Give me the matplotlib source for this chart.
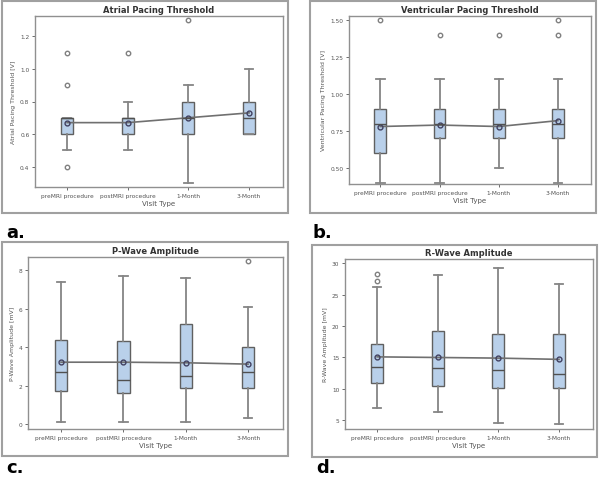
import matplotlib.pyplot as plt
from matplotlib.patches import Rectangle

visits = ["preMRI procedure", "postMRI procedure", "1-Month", "3-Month"]

# atrial pacing threshold [V]
atr_whislo = [0.5, 0.5, 0.3, 0.6]
atr_q1 = [0.6, 0.6, 0.6, 0.6]
atr_med = [0.7, 0.7, 0.7, 0.7]
atr_q3 = [0.7, 0.7, 0.8, 0.8]
atr_whishi = [0.7, 0.8, 0.9, 1.0]
atr_mean = [0.67, 0.67, 0.70, 0.73]
atr_fliers = [[0.4, 0.9, 1.1], [1.1], [1.3], []]

# ventricular pacing threshold [V]
ven_whislo = [0.4, 0.4, 0.5, 0.4]
ven_q1 = [0.6, 0.7, 0.7, 0.7]
ven_med = [0.8, 0.8, 0.8, 0.8]
ven_q3 = [0.9, 0.9, 0.9, 0.9]
ven_whishi = [1.1, 1.1, 1.1, 1.1]
ven_mean = [0.78, 0.79, 0.78, 0.82]
ven_fliers = [[1.5], [1.4], [1.4], [1.4, 1.5]]

# P-wave amplitude [mV]
pw_whislo = [0.1, 0.1, 0.1, 0.3]
pw_q1 = [1.7, 1.6, 1.9, 1.9]
pw_med = [2.7, 2.3, 2.5, 2.7]
pw_q3 = [4.4, 4.3, 5.2, 4.0]
pw_whishi = [7.4, 7.7, 7.6, 6.1]
pw_mean = [3.22, 3.22, 3.19, 3.12]
pw_fliers = [[], [], [], [8.5]]

# R-wave amplitude [mV]
rw_whislo = [7.0, 6.3, 4.6, 4.4]
rw_q1 = [10.9, 10.4, 10.1, 10.1]
rw_med = [13.5, 13.4, 13.0, 12.4]
rw_q3 = [17.1, 19.2, 18.7, 18.8]
rw_whishi = [26.3, 28.1, 29.2, 26.7]
rw_mean = [15.1, 15.0, 14.9, 14.7]
rw_fliers = [[27.2, 28.3], [], [], []]

W, H = 600, 481
fig = plt.figure(figsize=(6, 4.81), dpi=100)

edge = "#606060"
boxcol = "#b9d0ea"


def fr(x0, y0, x1, y1):
    # pixel box (top-left origin) -> figure fraction
    return [x0 / W, 1 - y1 / H, (x1 - x0) / W, (y1 - y0) / H]


def panel(frame, area, title, ylabel, lo, q1, med, q3, hi, mean, fliers,
          ylim, yticks, yfmt, letter, letter_xy):
    fig.patches.append(Rectangle((frame[0] / W, 1 - frame[3] / H),
                                 (frame[2] - frame[0]) / W, (frame[3] - frame[1]) / H,
                                 transform=fig.transFigure, fill=False,
                                 edgecolor="#a0a0a0", linewidth=1.5))
    ax = fig.add_axes(fr(*area))
    stats = []
    for i in range(len(visits)):
        stats.append(dict(whislo=lo[i], q1=q1[i], med=med[i], q3=q3[i],
                          whishi=hi[i], mean=mean[i], fliers=fliers[i]))
    pos = list(range(1, len(visits) + 1))
    ax.bxp(stats, positions=pos, widths=0.2, patch_artist=True, showmeans=False,
           boxprops=dict(facecolor=boxcol, edgecolor=edge, linewidth=1),
           medianprops=dict(color="#505050", linewidth=1),
           whiskerprops=dict(color="#858585", linewidth=1.3),
           capprops=dict(color="#858585", linewidth=1.3),
           capwidths=0.14,
           flierprops=dict(marker="o", markersize=3.2, markerfacecolor="none",
                           markeredgecolor="#808080", markeredgewidth=1))
    ax.plot(pos, mean, color="#707070", linewidth=1.2, marker="o", markersize=3.5,
            markerfacecolor="none", markeredgecolor="#404060", markeredgewidth=1)
    ax.set_xlim(0.47, 4.56)
    ax.set_ylim(*ylim)
    ax.set_yticks(yticks)
    ax.set_yticklabels([yfmt.format(v) for v in yticks])
    ax.set_xticks(pos)
    ax.set_xticklabels(visits)
    ax.tick_params(labelsize=4.2, colors="#555555", length=2, width=0.6, pad=2)
    for s in ax.spines.values():
        s.set_color("#909090")
        s.set_linewidth(1)
    ax.set_title(title, fontsize=6, fontweight="bold", color="#333333", pad=3)
    ax.set_xlabel("Visit Type", fontsize=5, color="#555555", labelpad=2)
    ax.set_ylabel(ylabel, fontsize=4.5, color="#555555", labelpad=3)
    fig.text(letter_xy[0] / W, 1 - letter_xy[1] / H, letter, fontsize=13,
             fontweight="bold", va="center", ha="left")


panel((2, 2, 288, 214), (35, 17, 283, 188), "Atrial Pacing Threshold",
      "Atrial Pacing Threshold [V]", atr_whislo, atr_q1, atr_med, atr_q3,
      atr_whishi, atr_mean, atr_fliers, (0.274, 1.326),
      [0.4, 0.6, 0.8, 1.0, 1.2], "{:.1f}", "a.", (6, 233))
panel((310, 2, 596, 214), (349, 17, 591, 185), "Ventricular Pacing Threshold",
      "Ventricular Pacing Threshold [V]", ven_whislo, ven_q1, ven_med, ven_q3,
      ven_whishi, ven_mean, ven_fliers, (0.39, 1.53),
      [0.5, 0.75, 1.0, 1.25, 1.5], "{:.2f}", "b.", (313, 233))
panel((2, 243, 288, 457), (28, 258, 283, 430), "P-Wave Amplitude",
      "P-Wave Amplitude [mV]", pw_whislo, pw_q1, pw_med, pw_q3,
      pw_whishi, pw_mean, pw_fliers, (-0.26, 8.7),
      [0, 2, 4, 6, 8], "{:d}", "c.", (6, 468))
panel((312, 246, 597, 458), (345, 260, 593, 430), "R-Wave Amplitude",
      "R-Wave Amplitude [mV]", rw_whislo, rw_q1, rw_med, rw_q3,
      rw_whishi, rw_mean, rw_fliers, (3.6, 30.7),
      [5, 10, 15, 20, 25, 30], "{:d}", "d.", (316, 468))

fig.savefig("out.png", dpi=100)
